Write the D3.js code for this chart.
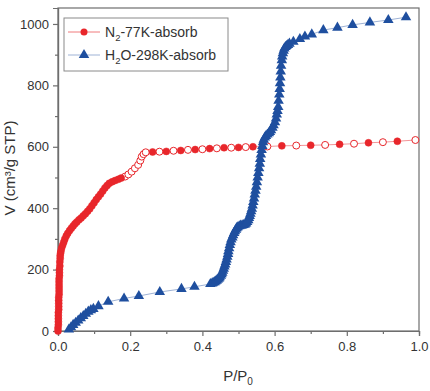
<!DOCTYPE html>
<html><head><meta charset="utf-8">
<script src="https://cdn.jsdelivr.net/npm/d3@7"></script>
<style>body{margin:0;background:#fff}svg{display:block;font-family:"Liberation Sans",Arial,sans-serif}</style>
</head><body><svg id="c" width="430" height="391"></svg>
<script>
// N2 77K adsorption (filled markers): [P/P0, V]
const n2Filled = [[0.000,0],[0.000,10],[0.001,20],[0.001,30],[0.001,40],[0.001,50],[0.001,60],[0.002,70],[0.002,80],[0.002,90],[0.002,100],[0.002,110],[0.003,120],[0.003,130],[0.003,140],[0.003,150],[0.003,160],[0.003,170],[0.004,180],[0.004,190],[0.004,200],[0.005,212],[0.005,225],[0.006,236],[0.006,245],[0.007,253],[0.008,260],[0.010,270],[0.013,280],[0.016,290],[0.019,300],[0.023,310],[0.027,318],[0.032,327],[0.037,335],[0.042,342],[0.047,349],[0.052,355],[0.058,362],[0.064,368],[0.070,375],[0.076,382],[0.082,390],[0.088,398],[0.094,408],[0.100,418],[0.106,428],[0.112,437],[0.118,446],[0.124,456],[0.130,466],[0.136,474],[0.142,481],[0.150,486],[0.158,490],[0.167,494],[0.175,498],
 [0.262,583],[0.300,585],[0.340,588],[0.380,591],[0.420,594],[0.460,597],[0.500,598],[0.540,600],[0.620,603],[0.700,605],[0.780,608],[0.860,613],[0.940,618]];
// N2 77K (open markers)
const n2Open = [[0.186,503],[0.195,510],[0.204,519],[0.213,530],[0.222,541],[0.228,555],[0.232,568],[0.237,576],[0.243,582],[0.281,584],[0.320,587],[0.360,590],[0.400,592],[0.440,595],[0.480,597],[0.520,599],[0.580,601],[0.660,604],[0.740,606],[0.820,610],[0.900,615],[0.990,622]];
// H2O 298K adsorption
const h2o = [[0.030,5],[0.036,12],[0.042,20],[0.049,27],[0.056,34],[0.063,42],[0.070,49],[0.077,56],[0.084,63],[0.091,68],[0.098,72],[0.112,81],[0.139,95],[0.183,106],[0.224,114],[0.282,127],[0.342,137],[0.378,144],[0.422,153],[0.427,155],[0.430,157],[0.434,159],[0.437,162],[0.440,165],[0.443,168],[0.446,171],[0.448,175],[0.451,180],[0.453,185],[0.455,190],[0.457,196],[0.459,203],[0.461,210],[0.463,217],[0.465,225],[0.467,233],[0.469,242],[0.471,251],[0.472,260],[0.474,270],[0.476,280],[0.478,289],[0.480,298],[0.483,305],[0.485,312],[0.488,319],[0.490,325],[0.493,330],[0.495,335],[0.498,338],[0.502,341],[0.506,343],[0.510,344],[0.514,345],[0.518,347],[0.521,350],[0.524,355],[0.527,361],[0.529,368],[0.531,375],[0.533,382],[0.535,390],[0.537,398],[0.539,409],[0.541,420],[0.543,432],[0.545,445],[0.547,457],[0.549,470],[0.551,485],[0.553,500],[0.555,515],[0.557,530],[0.559,545],[0.560,560],[0.562,575],[0.564,590],[0.566,603],[0.568,615],[0.570,623],[0.573,630],[0.576,635],[0.580,640],[0.584,644],[0.587,648],[0.590,654],[0.594,662],[0.597,670],[0.601,680],[0.604,692],[0.606,705],[0.608,717],[0.610,730],[0.611,750],[0.613,770],[0.614,788],[0.615,807],[0.616,826],[0.617,845],[0.618,864],[0.620,882],[0.621,894],[0.623,905],[0.625,913],[0.627,920],[0.630,925],[0.633,928],[0.637,932],[0.641,936],[0.652,942],[0.670,951],[0.684,959],[0.703,966],[0.735,980],[0.774,988],[0.816,997],[0.864,1005],[0.915,1013],[0.964,1022]];
const xTicks = [0, 0.2, 0.4, 0.6, 0.8, 1.0];
const yTicks = [0, 200, 400, 600, 800, 1000];
const legendLabels = ["N2-77K-absorb", "H2O-298K-absorb"];

const svg = d3.select("#c");
const L = 58, R = 419, T = 8, B = 331;
const x = d3.scaleLinear().domain([0, 1]).range([L, R]);
const y = d3.scaleLinear().domain([0, 1052]).range([B, T]);
const red = "#e8262b", blue = "#1f4f9f", axisC = "#6e6e6e", txt = "#333";

// frame
svg.append("rect").attr("x", L).attr("y", T).attr("width", R - L).attr("height", B - T)
  .attr("fill", "none").attr("stroke", axisC).attr("stroke-width", 1.2);

// axes
svg.append("g").attr("transform", `translate(0,${B})`)
  .call(d3.axisBottom(x).tickValues(xTicks).tickFormat(d3.format(".1f")).tickSize(5).tickPadding(6));
svg.append("g").attr("transform", `translate(${L},0)`)
  .call(d3.axisLeft(y).tickValues(yTicks).tickFormat(d3.format("d")).tickSize(5).tickPadding(4));
svg.append("g").attr("transform", `translate(0,${B})`)
  .call(d3.axisBottom(x).tickValues([0.1,0.3,0.5,0.7,0.9]).tickFormat("").tickSize(3));
svg.append("g").attr("transform", `translate(${L},0)`)
  .call(d3.axisLeft(y).tickValues([100,300,500,700,900]).tickFormat("").tickSize(3));
svg.selectAll(".domain").attr("stroke", axisC).attr("stroke-width", 1.2);
svg.selectAll(".tick line").attr("stroke", axisC).attr("stroke-width", 1.2);
svg.selectAll(".tick text").attr("fill", txt).style("font-size", "13px");

// axis labels
svg.append("text").attr("transform", "translate(15,168) rotate(-90)").attr("text-anchor", "middle")
  .attr("fill", txt).style("font-size", "15px").text("V (cm³/g STP)");
const xl = svg.append("text").attr("x", 238).attr("y", 381).attr("text-anchor", "middle")
  .attr("fill", txt).style("font-size", "15px");
xl.append("tspan").text("P/P");
xl.append("tspan").attr("dy", 4).style("font-size", "10px").text("0");

// N2 series
const line = d3.line().x(d => x(d[0])).y(d => y(d[1]));
const n2All = n2Filled.concat(n2Open).sort((a, b) => a[0] - b[0]);
svg.append("path").attr("d", line(n2All)).attr("fill", "none").attr("stroke", "#f07a7d").attr("stroke-width", 0.8);
svg.append("g").selectAll("circle").data(n2Open).join("circle")
  .attr("cx", d => x(d[0])).attr("cy", d => y(d[1])).attr("r", 3.5)
  .attr("fill", "#fff").attr("stroke", red).attr("stroke-width", 1);
svg.append("g").selectAll("circle").data(n2Filled).join("circle")
  .attr("cx", d => x(d[0])).attr("cy", d => y(d[1])).attr("r", 3.5)
  .attr("fill", red).attr("stroke", red).attr("stroke-width", 0.5);

// H2O series
svg.append("path").attr("d", line(h2o)).attr("fill", "none").attr("stroke", "#9fb3d6").attr("stroke-width", 1);
const tri = d3.symbol().type(d3.symbolTriangle).size(48);
svg.append("g").selectAll("path").data(h2o).join("path")
  .attr("transform", d => `translate(${x(d[0])},${y(d[1])})`).attr("d", tri).attr("fill", blue);

// legend
const lg = svg.append("g");
lg.append("rect").attr("x", 64).attr("y", 18).attr("width", 164).attr("height", 53)
  .attr("fill", "#fff").attr("stroke", "#8a8a8a").attr("stroke-width", 1);
const rows = [{c: red, lc: "#f07a7d", sym: "circle", y: 32}, {c: blue, lc: "#9fb3d6", sym: "tri", y: 55}];
rows.forEach((r, i) => {
  lg.append("line").attr("x1", 68).attr("x2", 100).attr("y1", r.y).attr("y2", r.y).attr("stroke", r.lc).attr("stroke-width", 1);
  if (r.sym === "circle") lg.append("circle").attr("cx", 84).attr("cy", r.y).attr("r", 3.5).attr("fill", r.c);
  else lg.append("path").attr("transform", `translate(84,${r.y})`).attr("d", tri).attr("fill", r.c);
  const t = lg.append("text").attr("x", 105).attr("y", r.y + 5).attr("fill", txt).style("font-size", "14px");
  const lab = legendLabels[i];
  const m = lab.match(/^([A-Z])2(.*)$/) || lab.match(/^(H)2(O.*)$/);
  t.append("tspan").text(m[1]);
  t.append("tspan").attr("dy", 4).style("font-size", "9.5px").text("2");
  t.append("tspan").attr("dy", -4).text(m[2]);
});
</script></body></html>
